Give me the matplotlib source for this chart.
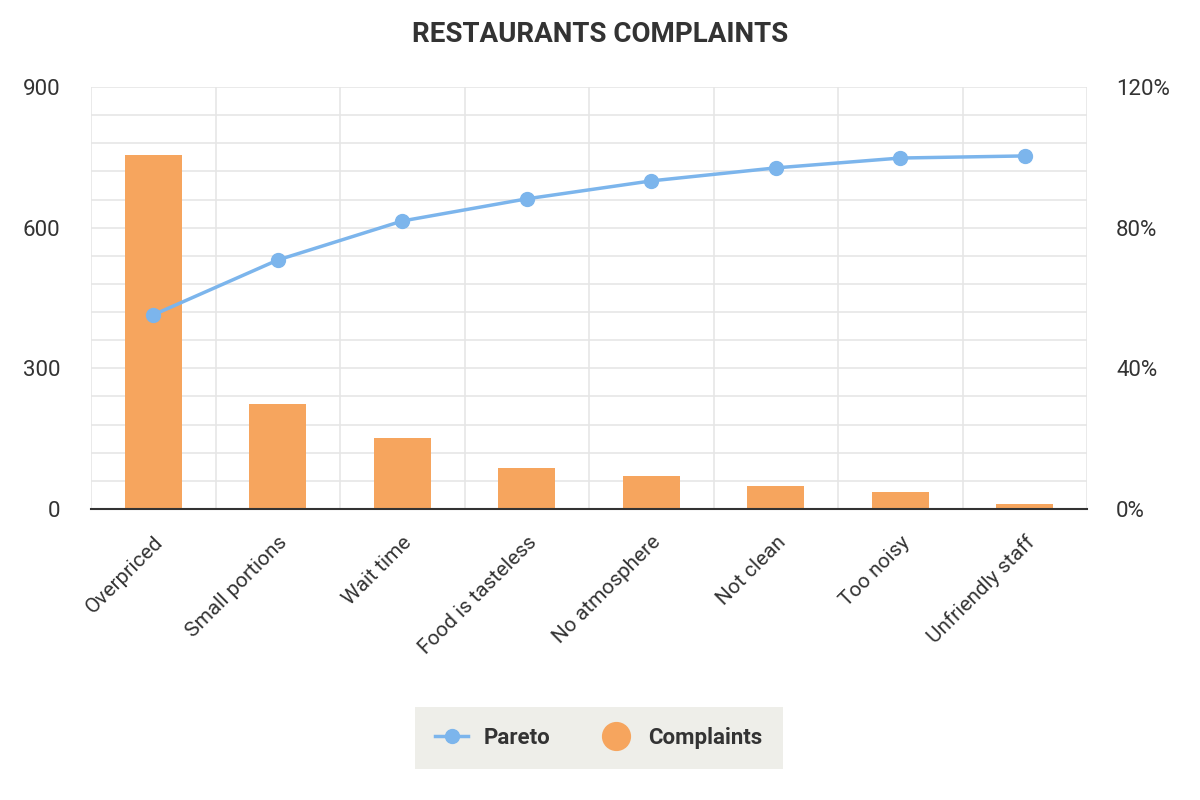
import matplotlib.pyplot as plt
from matplotlib.lines import Line2D

categories = ["Overpriced", "Small portions", "Wait time", "Food is tasteless",
              "No atmosphere", "Not clean", "Too noisy", "Unfriendly staff"]
complaints = [755, 224, 151, 87, 70, 49, 36, 11]
pareto = [55.2, 70.8, 81.9, 88.2, 93.3, 97.0, 99.8, 100.4]

bar_color = "#f6a55e"
line_color = "#7cb5ec"
text_color = "#333333"

plt.rcParams['font.family'] = ['Roboto', 'DejaVu Sans']

fig = plt.figure(figsize=(12, 8), dpi=100)
ax = fig.add_axes([91/1200, 1 - 509/800, (1087 - 91)/1200, (509 - 87)/800])
ax2 = ax.twinx()

x = list(range(len(categories)))
ax.bar(x, complaints, width=0.46, color=bar_color, zorder=2)
ax.set_xlim(-0.5, len(categories) - 0.5)
ax.set_ylim(0, 900)
ax.set_yticks([0, 300, 600, 900])
ax.set_yticks(list(range(0, 901, 60)), minor=True)
ax.grid(True, which='both', axis='y', color='#e6e6e6', lw=1.2, zorder=0)

# vertical separators between categories
for b in [i - 0.5 for i in range(len(categories) + 1)]:
    ax.axvline(b, color='#e6e6e6', lw=1.2, zorder=0)

ax.set_xticks(x)
ax.set_xticklabels(categories, rotation=45, ha='right', rotation_mode='anchor',
                   fontsize=15, color=text_color)
ax.tick_params(axis='x', length=0, pad=17)
ax.tick_params(axis='y', which='both', length=0, labelsize=16, labelcolor=text_color, pad=22)
for s in ['top', 'left', 'right']:
    ax.spines[s].set_visible(False)
ax.spines['bottom'].set_color('#333333')
ax.spines['bottom'].set_linewidth(1.5)
ax.spines['bottom'].set_zorder(5)

ax2.plot(x, pareto, color=line_color, lw=2.5, marker='o', markersize=10, zorder=3)
ax2.set_ylim(0, 120)
ax2.set_yticks([0, 40, 80, 120])
ax2.set_yticklabels(["0%", "40%", "80%", "120%"])
ax2.tick_params(axis='y', length=0, labelsize=16, labelcolor=text_color, pad=21)
for s in ['top', 'left', 'right', 'bottom']:
    ax2.spines[s].set_visible(False)

fig.text(0.5, 0.957, "RESTAURANTS COMPLAINTS", ha='center', va='center',
         fontsize=20, fontweight='bold', color=text_color)

handles = [
    Line2D([0], [0], color=line_color, lw=2.5, marker='o', markersize=10),
    Line2D([0], [0], color=bar_color, lw=0, marker='o', markersize=20),
]
leg = fig.legend(handles, ["Pareto", "Complaints"], loc='center',
                 bbox_to_anchor=(0.499, 0.0775), ncol=2, frameon=True,
                 fancybox=False, facecolor='#eeeee9', edgecolor='none',
                 framealpha=1, handlelength=1.5, columnspacing=2.2,
                 handletextpad=0.7, borderpad=0.9,
                 prop={'weight': 'bold', 'size': 16})
for t in leg.get_texts():
    t.set_color(text_color)

fig.savefig("out.png", dpi=100, facecolor='white')
